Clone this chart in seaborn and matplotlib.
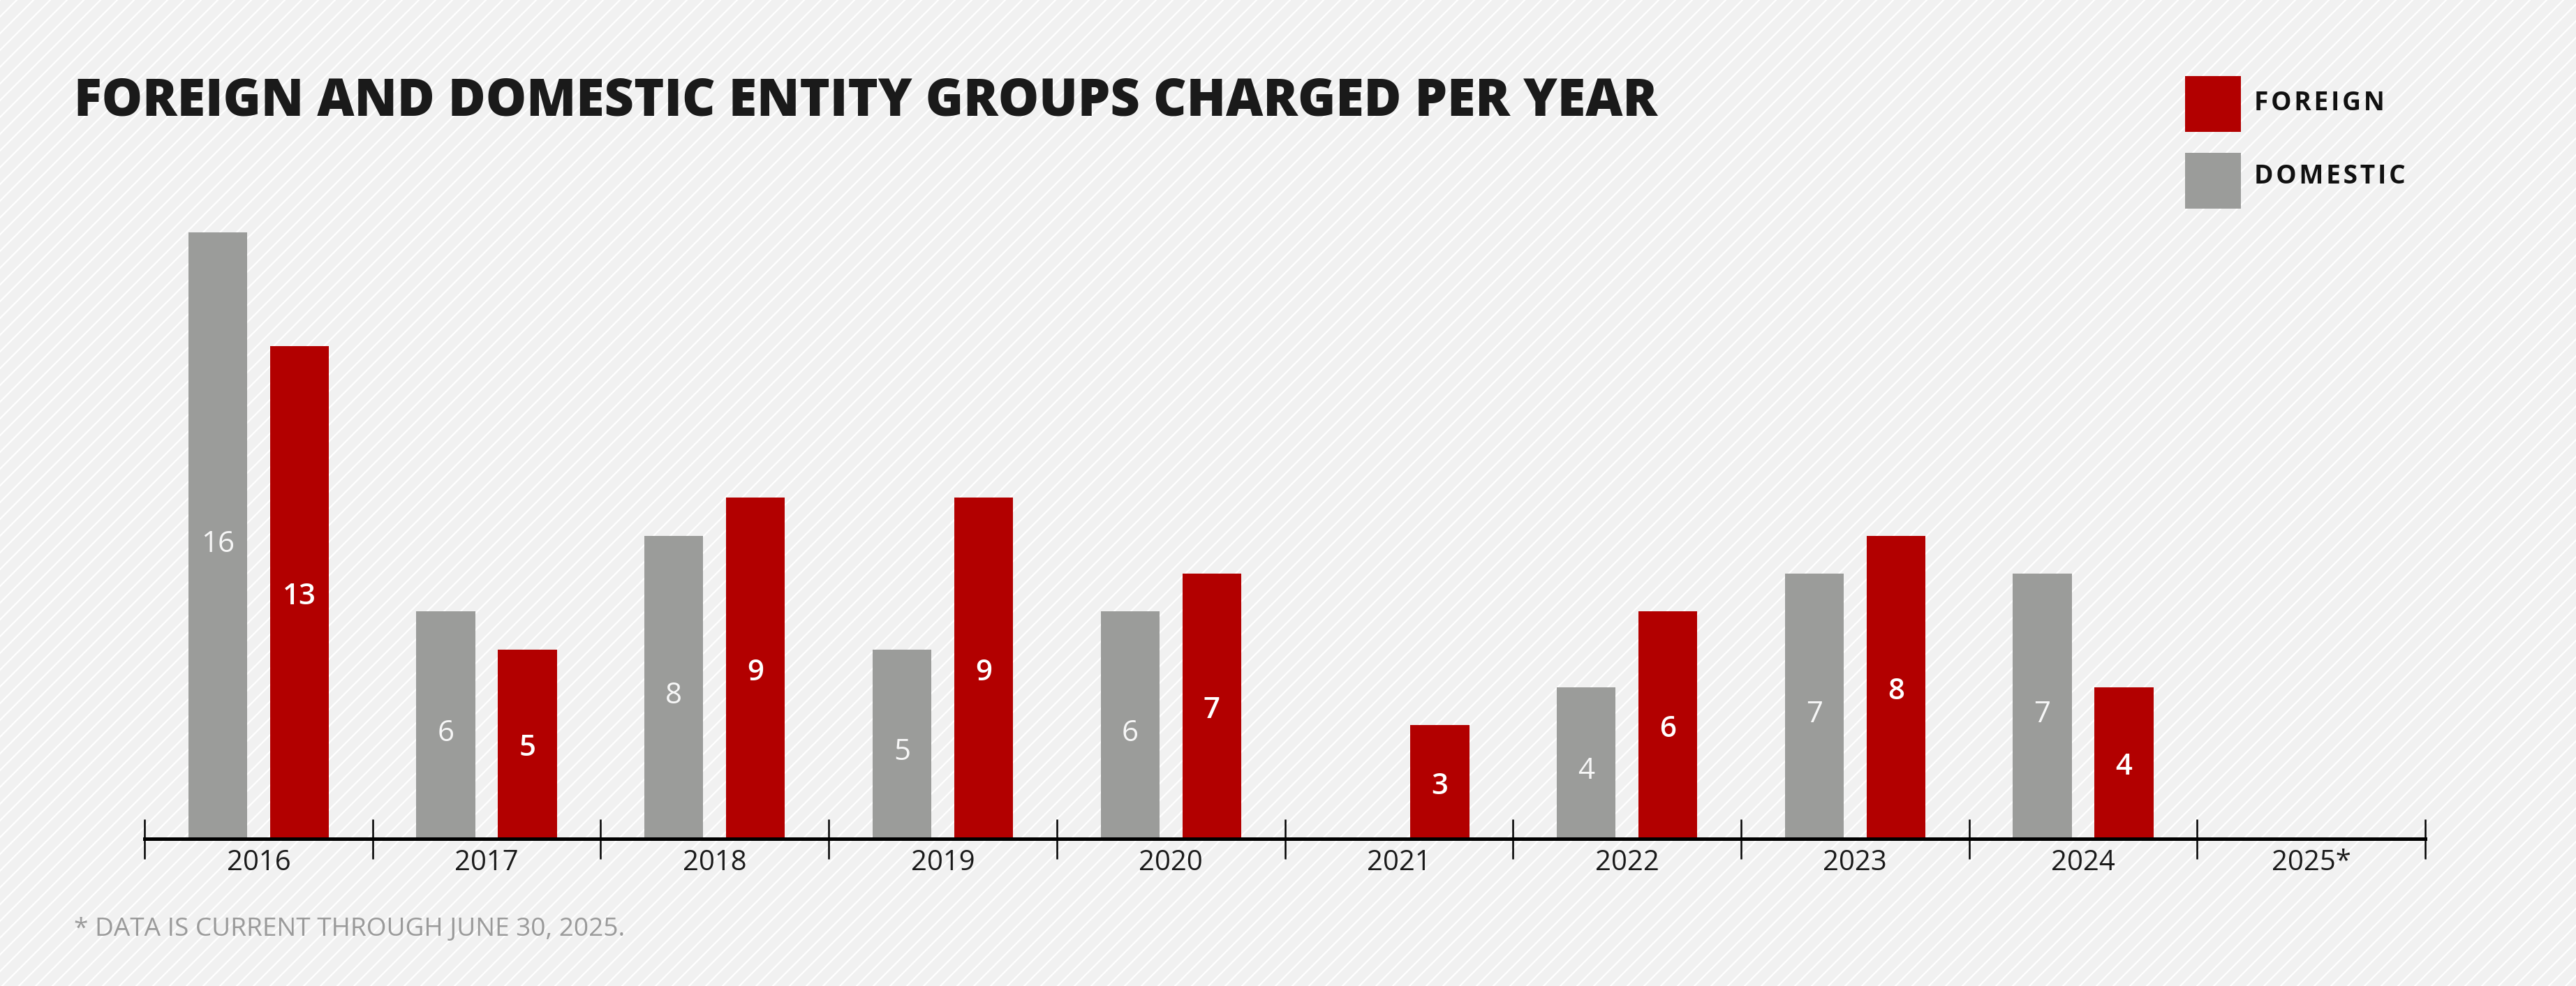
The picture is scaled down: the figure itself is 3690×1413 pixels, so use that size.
import matplotlib
matplotlib.use("Agg")
import matplotlib.pyplot as plt
from matplotlib.patches import Rectangle
import seaborn as sns
import pandas as pd
import numpy as np

# ---- data ----
years = ["2016", "2017", "2018", "2019", "2020", "2021", "2022", "2023", "2024", "2025*"]
domestic = [16, 6, 8, 5, 6, np.nan, 4, 7, 7, np.nan]
foreign = [13, 5, 9, 9, 7, 3, 6, 8, 4, np.nan]
series = ["Domestic", "Foreign"]
legend_labels = ["FOREIGN", "DOMESTIC"]
title = "FOREIGN AND DOMESTIC ENTITY GROUPS CHARGED PER YEAR"
footnote = "* DATA IS CURRENT THROUGH JUNE 30, 2025."

GRAY = "#9b9c9a"
RED = "#b20000"
BG = "#f1f1f1"

df = pd.DataFrame({
    "year": years * 2,
    "value": domestic + foreign,
    "group": [series[0]] * len(years) + [series[1]] * len(years),
})

sns.set_theme(style="white")
plt.rcParams["font.family"] = ["Open Sans", "DejaVu Sans"]
plt.rcParams["hatch.linewidth"] = 2.2

DPI = 72
W, H = 3690, 1413
fig = plt.figure(figsize=(W / DPI, H / DPI), dpi=DPI)
fig.patch.set_facecolor(BG)
fig.patches.append(Rectangle((0, 0), 1, 1, transform=fig.transFigure,
                             facecolor="none", edgecolor="white", hatch="/",
                             linewidth=0, zorder=-10))

ax = fig.add_axes([0.0561, 0.1493, 0.8854, 0.6917])
ax.set_facecolor("none")

palette = {series[0]: GRAY, series[1]: RED}
sns.barplot(data=df, x="year", y="value", hue="group", order=years,
            hue_order=series, palette=palette, saturation=1,
            width=0.716, gap=0.28, errorbar=None, linewidth=0, ax=ax,
            legend=False)

ax.set_xlim(-0.5, len(years) - 0.5)
ax.set_ylim(0, 18)
ax.set_xlabel("")
ax.set_ylabel("")
ax.set_yticks([])
for s in ["top", "left", "right"]:
    ax.spines[s].set_visible(False)
ax.spines["bottom"].set_linewidth(5)
ax.spines["bottom"].set_color("black")
ax.spines["bottom"].set_zorder(5)

ax.set_xticks(range(len(years)))
ax.set_xticklabels(years)
ax.set_xticks(np.arange(-0.5, len(years), 1.0), minor=True)
ax.tick_params(axis="x", which="major", length=0, pad=14, labelsize=40,
               labelcolor="#1a1a1a")
ax.tick_params(axis="x", which="minor", direction="inout", length=57,
               width=2.5, color="black", bottom=True)

# value labels
styles = [dict(color="#f7f7f7", fontweight="medium", offset=-12),
          dict(color="white", fontweight="semibold", offset=-6)]
for cont, st in zip(ax.containers, styles):
    for p in cont.patches:
        h = p.get_height()
        if np.isnan(h) or h <= 0:
            continue
        ax.annotate(f"{h:g}", (p.get_x() + p.get_width() / 2, h / 2),
                    xytext=(0, st["offset"]), textcoords="offset points",
                    ha="center", va="center", fontsize=42,
                    color=st["color"], fontweight=st["fontweight"])

# legend (Foreign first), drawn as key squares + labels
hs = "\u200a"
leg_colors = [palette[series[1]], palette[series[0]]]
sq_top = [109, 219]
txt_y = [148, 253]
for lab, col, top, ty in zip(legend_labels, leg_colors, sq_top, txt_y):
    fig.patches.append(Rectangle((3130 / W, 1 - (top + 80) / H), 80 / W, 80 / H,
                                 transform=fig.transFigure, facecolor=col,
                                 edgecolor="none", zorder=2))
    fig.text(3229 / W, 1 - ty / H, hs.join(list(lab)), ha="left", va="center",
             fontsize=37, fontweight="bold", color="#111111",
             family=["Open Sans", "DejaVu Sans"])

fig.text(106 / W, 1 - 165 / H, title, ha="left", va="baseline",
         fontsize=73.5, fontweight=800, color="#1a1a1a")
fig.text(106 / W, 1 - 1341 / H, footnote, ha="left", va="baseline",
         fontsize=37, color="#9a9a9a",
         family=["Liberation Sans Narrow", "Open Sans", "DejaVu Sans"])

fig.savefig("out.png", dpi=DPI, facecolor=BG)
